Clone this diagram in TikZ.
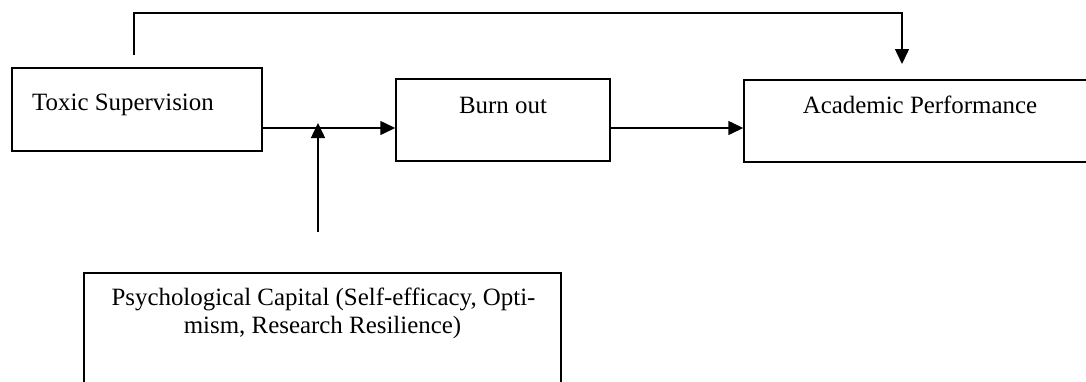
\documentclass[tikz,border=0pt]{standalone}
\usepackage{fontspec}
\setmainfont{Liberation Serif}
\usetikzlibrary{arrows.meta}
\begin{document}
\begin{tikzpicture}[x=1bp,y=-1bp,
  boxstyle/.style={draw=black, line width=1.5bp, rectangle, inner sep=0pt},
  txt/.style={inner sep=0pt, font=\fontsize{25}{28}\selectfont},
  conn/.style={draw=black, line width=1.5bp},
  arr/.style={conn, -{Triangle[length=15bp,width=14bp]}}]
\useasboundingbox (0,0) rectangle (1086,381);
% boxes
\node[boxstyle, minimum width=250bp, minimum height=83bp] (tox) at (137,109.5) {};
\node[boxstyle, minimum width=214bp, minimum height=82bp] (burn) at (503,120) {};
\node[boxstyle, minimum width=344bp, minimum height=82bp] (acad) at (916,121) {};
\node[boxstyle, minimum width=477bp, minimum height=122bp] (psy) at (322.5,334) {};
% texts
\node[txt, anchor=base west] (toxt) at (32,110) {Toxic Supervision};
\node[txt, anchor=base] (burnt) at (503,113) {Burn out};
\node[txt, anchor=base] (acadt) at (920,113) {Academic Performance};
\node[txt, anchor=base] (psya) at (323.5,305) {Psychological Capital (Self-efficacy, Opti-};
\node[txt, anchor=base] (psyb) at (322.5,333) {mism, Research Resilience)};
% coordinates
\coordinate (mid) at (318,128);
\coordinate (pcs) at (318,232);
\coordinate (pct) at (318,123);
\coordinate (ts) at (134,55);
\coordinate (tc1) at (134,13);
\coordinate (tc2) at (902,13);
\coordinate (te) at (902,64);
% connectors
\draw[arr] (tox.east |- mid) -- (burn.west |- mid);
\draw[arr] (burn.east |- mid) -- (acad.west |- mid);
\draw[arr] (pcs) -- (pct);
\draw[arr] (ts) -- (tc1) -- (tc2) -- (te);
\end{tikzpicture}
\end{document}
